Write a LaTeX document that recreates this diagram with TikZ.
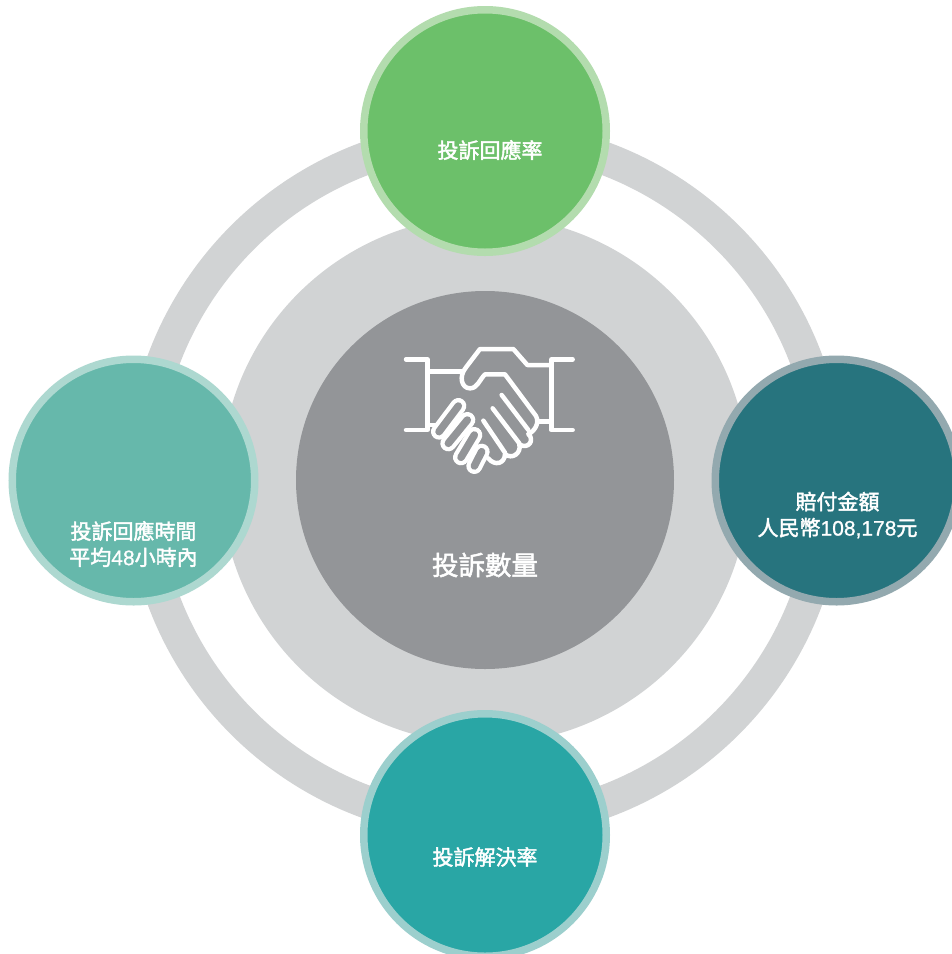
\documentclass[tikz,border=0pt]{standalone}
\usepackage{fontspec}
\setmainfont[RawFeature={embolden=0.9}]{Liberation Sans}
\newfontfamily\cjk[RawFeature={embolden=2.0}]{Noto Sans CJK TC}
\definecolor{ringgray}{HTML}{D1D3D4}
\definecolor{coregray}{HTML}{939598}
\definecolor{topfill}{HTML}{6CC06A}
\definecolor{topring}{HTML}{B3DCAE}
\definecolor{leftfill}{HTML}{66B8AB}
\definecolor{leftring}{HTML}{ADD8D0}
\definecolor{rightfill}{HTML}{27747E}
\definecolor{rightring}{HTML}{93A9AF}
\definecolor{botfill}{HTML}{29A6A5}
\definecolor{botring}{HTML}{9CCFCD}
\tikzset{
  satellite/.style={circle,inner sep=0pt,outer sep=0pt,minimum size=242.5pt,line width=7.5pt},
  disc/.style={circle,inner sep=0pt,outer sep=0pt,fill=#1},
  caption/.style={text=white,align=center,font=\fontsize{21}{26}\selectfont\cjk,inner sep=0pt},
  icon/.style={draw=white,line width=4.5pt,line cap=round,line join=round},
}
\newcommand{\finger}[2]{%
  \draw[white,line width=16pt,line cap=round] #1 -- #2;
  \draw[coregray,line width=7.5pt,line cap=round] #1 -- #2;}
\begin{document}
\begin{tikzpicture}[x=1pt,y=-1pt]
\clip (0,0) rectangle (952,954);
\fill[white] (0,0) rectangle (952,954);
\node[circle,draw=ringgray,line width=33pt,inner sep=0pt,outer sep=0pt,minimum size=686pt] (ring) at (485,480) {};
\node[disc=ringgray,minimum size=528pt] (mid) at (485,480) {};
\node[disc=coregray,minimum size=378pt] (core) at (485,480) {};
\node[satellite,draw=topring,fill=topfill] (top) at (485,131) {};
\node[satellite,draw=leftring,fill=leftfill] (left) at (133.5,480.5) {};
\node[satellite,draw=rightring,fill=rightfill] (right) at (836.5,480.5) {};
\node[satellite,draw=botring,fill=botfill] (bot) at (485,835) {};
\node[caption] (toptext) at (490,150) {投訴回應率};
\node[caption] (lefttext) at (133.5,544) {投訴回應時間\\平均{\rmfamily 48}小時內};
\node[caption] (righttext) at (837.5,515) {賠付金額\\人民幣{\rmfamily 108,178}元};
\node[caption] (bottext) at (485,857) {投訴解決率};
\node[caption,font=\fontsize{26.5}{30}\selectfont\cjk] (coretext) at (485,565) {投訴數量};
\begin{scope}[shift={(390,330)},scale=1/3]
  \draw[icon] (48,88) -- (112,88) -- (112,300) -- (48,300);
  \draw[icon] (548,88) -- (484,88) -- (484,300) -- (548,300);
  \draw[icon] (112,124) -- (215,124);
  \draw[icon] (484,105) -- (412,105) -- (370,57) -- (270,57) -- (228,112)
     .. controls (205,140) and (215,175) .. (240,175)
     .. controls (262,175) and (268,150) .. (285,133)
     -- (345,133) -- (438,258)
     .. controls (450,280) and (432,305) .. (415,312)
     .. controls (435,330) and (415,360) .. (388,343)
     .. controls (395,370) and (365,390) .. (345,372)
     .. controls (345,400) and (315,410) .. (295,385);
  \draw[icon] (484,275) -- (445,275);
  \draw[icon] (112,285) -- (135,285);
  \draw[icon] (335,195) -- (415,300);
  \draw[icon] (308,235) -- (388,340);
  \draw[icon] (280,272) -- (345,368);
  \finger{(275,365)}{(253,408)}
  \finger{(253,315)}{(213,382)}
  \finger{(232,270)}{(175,340)}
  \finger{(205,228)}{(147,305)}
\end{scope}
\end{tikzpicture}
\end{document}
